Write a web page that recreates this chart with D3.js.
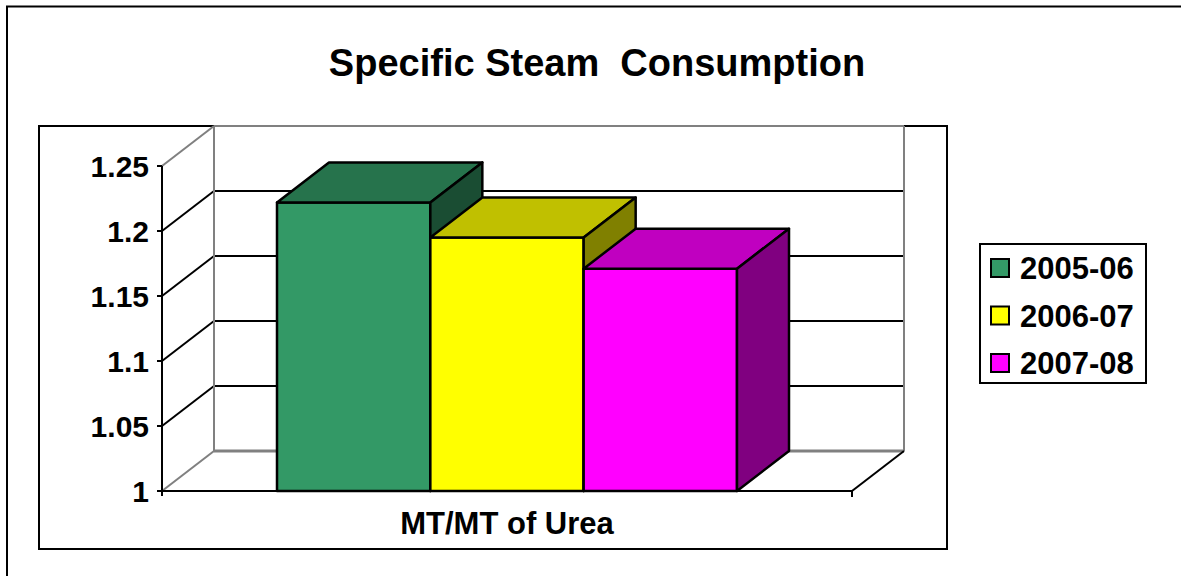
<!DOCTYPE html>
<html>
<head>
<meta charset="utf-8">
<script src="https://cdn.jsdelivr.net/npm/d3@7"></script>
<style>
  body { margin: 0; background: #fff; }
  text { font-family: Arial, "Liberation Sans", sans-serif; font-weight: bold; }
</style>
</head>
<body>
<div id="chart"></div>
<script>
// Chart data
var categories = ["MT/MT of Urea"];
var seriesNames = ["2005-06", "2006-07", "2007-08"];
var seriesValues = [1.222, 1.195, 1.171];
var yTicks = [1, 1.05, 1.1, 1.15, 1.2, 1.25];
var frontColors = ["#339966", "#ffff00", "#ff00ff"];
var topColors = ["#26734c", "#c0c000", "#c000c0"];
var sideColors = ["#1a4d33", "#808000", "#800080"];

var W = 1181, H = 576;
// front face of the plot
var x0 = 162, x1 = 852, yBottom = 491, yTop = 166;
// 3D depth offset
var dx = 52, dy = -40;

var svg = d3.select("#chart")
  .append("svg")
    .attr("width", W)
    .attr("height", H);

// outer border (runs off the right and bottom edge)
svg.append("rect")
  .attr("x", 7).attr("y", 6.5)
  .attr("width", W + 20).attr("height", H + 20)
  .attr("fill", "none").attr("stroke", "#000").attr("stroke-width", 2);

// title
svg.append("text")
  .attr("x", 597).attr("y", 76)
  .attr("text-anchor", "middle")
  .style("font-size", "38px")
  .text("Specific Steam\u00a0 Consumption");

// plot area box
svg.append("rect")
  .attr("x", 39).attr("y", 126)
  .attr("width", 908).attr("height", 423)
  .attr("fill", "none").attr("stroke", "#000").attr("stroke-width", 2);

var y = d3.scaleLinear().domain([1, 1.25]).range([yBottom, yTop]);
var xCat = d3.scaleBand().domain(categories).range([x0, x1]);
// gap width 150%: cluster occupies 3/(3+1.5) of the band
var xSer = d3.scaleBand().domain(seriesNames)
  .range([0, xCat.bandwidth()])
  .paddingOuter(0.75).paddingInner(0);

var walls = svg.append("g");

// gridlines: back wall and left wall
var inner = yTicks.filter(function(t) { return t > 1 && t < 1.25; });
walls.selectAll(".gridBack")
  .data(inner).join("line")
    .attr("x1", x0 + dx).attr("x2", x1 + dx)
    .attr("y1", function(d) { return y(d) + dy; })
    .attr("y2", function(d) { return y(d) + dy; })
    .attr("stroke", "#000").attr("stroke-width", 2);
walls.selectAll(".gridSide")
  .data(inner).join("line")
    .attr("x1", x0).attr("x2", x0 + dx)
    .attr("y1", function(d) { return y(d); })
    .attr("y2", function(d) { return y(d) + dy; })
    .attr("stroke", "#000").attr("stroke-width", 2);

// gray wall edges
var gray = "#808080";
function seg(g, ax, ay, bx, by, col, w) {
  g.append("line")
    .attr("x1", ax).attr("y1", ay).attr("x2", bx).attr("y2", by)
    .attr("stroke", col).attr("stroke-width", w);
}
seg(walls, x0, y(1.25), x0 + dx, y(1.25) + dy, gray, 2);
seg(walls, x0 + dx, y(1.25) + dy, x0 + dx, y(1) + dy, gray, 2);
seg(walls, x0 + dx, y(1.25) + dy, x1 + dx, y(1.25) + dy, gray, 2);
seg(walls, x1 + dx, y(1.25) + dy, x1 + dx, y(1) + dy, gray, 2);
seg(walls, x0 + dx, y(1) + dy, x1 + dx, y(1) + dy, gray, 3);
seg(walls, x0, y(1), x0 + dx, y(1) + dy, gray, 2);

// floor front and right edges
seg(walls, x0, y(1), x1, y(1), "#000", 2);
seg(walls, x1, y(1), x1 + dx, y(1) + dy, "#000", 2);

// value axis
seg(walls, x0, y(1.25), x0, y(1) + 5, "#000", 2);
walls.selectAll(".tick")
  .data(yTicks).join("line")
    .attr("x1", x0 - 5).attr("x2", x0)
    .attr("y1", function(d) { return y(d); })
    .attr("y2", function(d) { return y(d); })
    .attr("stroke", "#000").attr("stroke-width", 2);
walls.selectAll(".tickLabel")
  .data(yTicks).join("text")
    .attr("x", x0 - 13)
    .attr("y", function(d) { return y(d); })
    .attr("dy", "0.36em")
    .attr("text-anchor", "end")
    .style("font-size", "30px")
    .text(function(d) { return d; });

// category axis ticks and label
seg(walls, x1, y(1), x1, y(1) + 6, "#000", 2);
svg.selectAll(".catLabel")
  .data(categories).join("text")
    .attr("x", function(d) { return xCat(d) + xCat.bandwidth() / 2; })
    .attr("y", 534)
    .attr("text-anchor", "middle")
    .style("font-size", "31px")
    .text(function(d) { return d; });

// bars, left to right so each one covers the previous side face
var bars = svg.append("g")
  .attr("stroke", "#000").attr("stroke-width", 2.5)
  .attr("stroke-linejoin", "round");
seriesNames.forEach(function(s, i) {
  var bx0 = xCat(categories[0]) + xSer(s);
  var bx1 = bx0 + xSer.bandwidth();
  var by = y(seriesValues[i]);
  var b0 = y(1);
  var g = bars.append("g");
  g.append("rect")
    .attr("x", bx0).attr("y", by)
    .attr("width", bx1 - bx0).attr("height", b0 - by)
    .attr("fill", frontColors[i]);
  g.append("polygon")
    .attr("points", [[bx0, by], [bx0 + dx, by + dy], [bx1 + dx, by + dy], [bx1, by]].join(" "))
    .attr("fill", topColors[i]);
  g.append("polygon")
    .attr("points", [[bx1, by], [bx1 + dx, by + dy], [bx1 + dx, b0 + dy], [bx1, b0]].join(" "))
    .attr("fill", sideColors[i]);
});

// legend
var legend = svg.append("g");
legend.append("rect")
  .attr("x", 980).attr("y", 244)
  .attr("width", 166).attr("height", 139)
  .attr("fill", "#fff").attr("stroke", "#000").attr("stroke-width", 2);
var items = legend.selectAll(".item")
  .data(seriesNames).join("g")
    .attr("transform", function(d, i) { return "translate(0," + (268 + i * 47.5) + ")"; });
items.append("rect")
  .attr("x", 991).attr("y", -9)
  .attr("width", 18).attr("height", 18)
  .attr("fill", function(d, i) { return frontColors[i]; })
  .attr("stroke", "#000").attr("stroke-width", 2);
items.append("text")
  .attr("x", 1020).attr("y", 0)
  .attr("dy", "0.36em")
  .style("font-size", "31px")
  .text(function(d) { return d; });
</script>
</body>
</html>
